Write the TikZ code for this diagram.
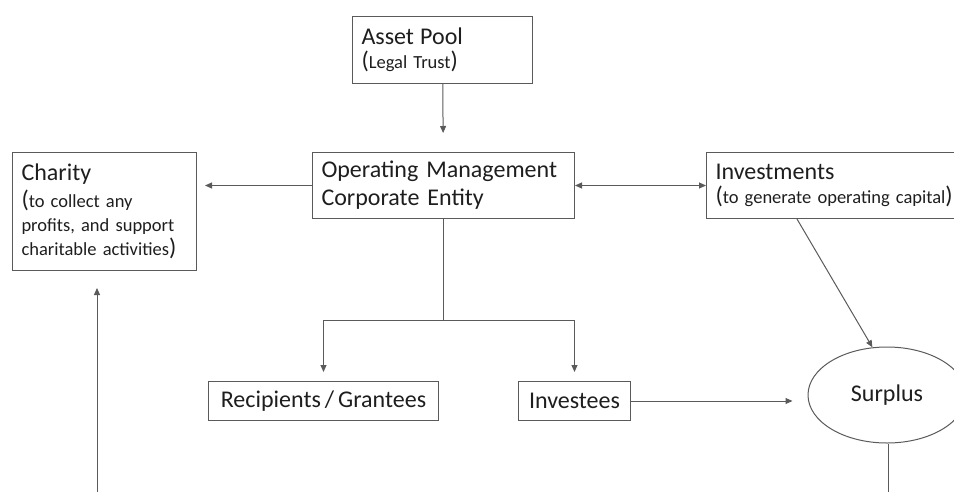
\documentclass[tikz,border=0pt]{standalone}
\usepackage{fontspec}
\setmainfont{Carlito}
\usetikzlibrary{positioning, arrows.meta, shapes.geometric, calc}
\usepackage{xcolor}
\definecolor{linegray}{HTML}{5A5A5A}
\definecolor{textgray}{HTML}{1E1E1E}
\newcommand{\titlesize}{\fontsize{24}{28}\selectfont}
\newcommand{\notesize}{\fontsize{18.5}{24}\selectfont}

\begin{document}
\begin{tikzpicture}[
      x=1pt, y=-1pt,
      box/.style={draw=linegray, line width=1pt, anchor=north west, align=left,
                  inner xsep=9pt, inner ysep=0pt, text=textgray, font=\notesize},
      arr/.style={-{Triangle[length=7pt, width=6pt]}, draw=linegray, line width=1pt},
      plain/.style={draw=linegray, line width=1pt},
    ]
    \useasboundingbox (0,0) rectangle (954,491);
    \clip (0,0) rectangle (954,491);

    \node[box, text width=162pt, minimum height=67pt] (pool) at (352,16)
      {{\titlesize Asset Pool}\\{\titlesize(}Legal Trust{\titlesize)}};
    \node[box, text width=244pt, minimum height=66pt, font=\titlesize] (op) at (312,152)
      {Operating Management\\Corporate Entity};
    \node[box, text width=166pt, minimum height=118pt] (charity) at (12,152)
      {{\titlesize Charity}\\[3pt]{\titlesize(}to collect any\\profits, and support\\charitable activities{\titlesize)}};
    \node[box, text width=242pt, minimum height=66pt] (inv) at (706,152)
      {{\titlesize Investments}\\{\titlesize(}to generate operating capital{\titlesize)}};

    \node[box, text width=226pt, inner xsep=2pt, minimum height=39pt, align=center, font=\titlesize] (rec) at (208,381)
      {Recipients\,/\,Grantees};
    \node[box, text width=108pt, inner xsep=2pt, minimum height=39pt, align=center, font=\titlesize] (ivt) at (518,381)
      {Investees};
    \node[draw=linegray, line width=1pt, ellipse, minimum width=158pt, minimum height=96pt,
          inner sep=0pt, text=textgray, font=\titlesize] (surplus) at (887,395) {Surplus};

    \coordinate (charfoot) at (97,500);
    \coordinate (surpfoot) at (888,500);

    \draw[arr, shorten >=19pt] (pool) -- (op);
    \draw[arr, shorten >=8pt] (op.west) -- (op.west -| charity.east);
    \draw[arr, {Triangle[length=7pt, width=6pt]}-{Triangle[length=7pt, width=6pt]}] (op.east) -- (inv.west);
    \draw[plain] (op.south) -- ++(0,101) coordinate (split);
    \draw[arr, shorten >=9pt] (split) -| (rec.north);
    \draw[arr, shorten >=9pt] (split) -| (ivt.north);
    \draw[arr, shorten >=15pt] (ivt.east) -- (ivt.east -| surplus.west);
    \draw[arr] ([xshift=91pt]inv.south west) -- (surplus.107);
    \draw[plain] (surplus.south -| surpfoot) -- (surpfoot);
    \draw[arr, shorten >=17pt] (charfoot) -- (charfoot |- charity.south);
  \end{tikzpicture}
\end{document}
